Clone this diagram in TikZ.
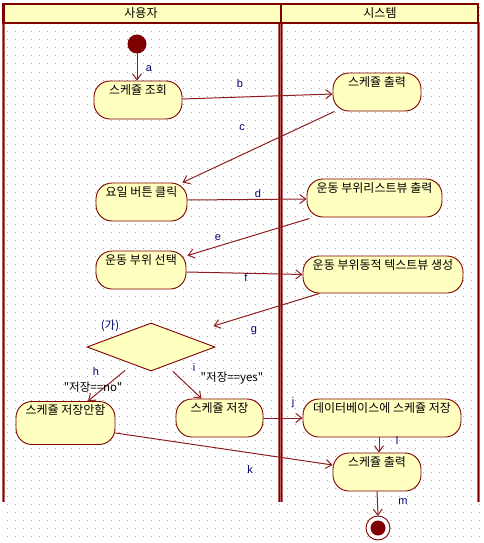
\documentclass[tikz,border=0pt]{standalone}
\usepackage{fontspec}
\setmainfont{Liberation Sans}
\newfontfamily\kr{Noto Sans CJK KR}
\usetikzlibrary{arrows.meta,shapes.geometric,calc}
\definecolor{framec}{HTML}{800000}
\definecolor{lanec}{HTML}{B86060}
\definecolor{fillc}{HTML}{FFFFC0}
\definecolor{arrowc}{HTML}{8E1E1E}
\definecolor{navyc}{HTML}{000070}
\definecolor{dotc}{HTML}{A8A8A8}
\newcommand{\actbox}[6]{%
  \node[act,minimum width=#4,minimum height=#5] (#1) at (#2,#3) {};
  \node[acttext] (#1t) at ($(#1.north)+(0,13.5)$) {#6};}
\begin{document}
\begin{tikzpicture}[x=1pt,y=-1pt,
  act/.style={draw=framec,fill=fillc,line width=0.9pt,rounded corners=16pt,inner sep=0pt},
  acttext/.style={font=\kr\fontsize{12}{14}\selectfont,anchor=base,inner sep=0pt},
  hdr/.style={font=\kr\fontsize{12}{14}\selectfont,inner sep=0pt},
  flow/.style={draw=arrowc,line width=1pt,-{Straight Barb[length=6pt,width=9pt]}},
  lab/.style={font=\fontsize{11}{13}\selectfont,text=navyc,inner sep=0pt},
  guard/.style={font=\kr\fontsize{11.5}{13}\selectfont,inner sep=0pt},
  griddot/.style={draw=dotc,line width=1pt,dash pattern=on 1pt off 7pt}]
\useasboundingbox (0,0) rectangle (483,543);
\fill[white] (0,0) rectangle (483,543);
% grid
\foreach \yy in {0,8,...,536} \draw[griddot] (6.5,\yy) -- (483,\yy);
% lanes
\foreach \xx/\ww in {3.5/3.5,478.5/3.5,280.5/5.5}
  \draw[lanec,line width=\ww pt] (\xx,22) -- (\xx,502);
\draw[framec,line width=1pt] (3.5,22) -- (3.5,502);
\draw[framec,line width=1pt] (279.2,22) -- (279.2,502);
\draw[framec,line width=1pt] (281.8,22) -- (281.8,502);
\draw[framec,line width=0.6pt] (478.5,22) -- (478.5,502);
% header
\draw[framec,fill=fillc,line width=2.5pt] (3.5,4) rectangle (478,23);
\draw[framec,line width=2.5pt] (281,4) -- (281,23);
\node[hdr] (h1) at (141,13) {사용자};
\node[hdr] (h2) at (380,13) {시스템};
% start
\fill[framec] (137,44) circle (9.5pt);
\coordinate (start) at (137,53.5);
% activities
\actbox{n1}{138}{100}{88pt}{38pt}{스케쥴 조회}
\actbox{n2}{377}{92}{88pt}{38pt}{스케쥴 출력}
\actbox{n3}{141.5}{202}{91pt}{38pt}{요일 버튼 클릭}
\actbox{n4}{374.5}{198}{135pt}{38pt}{운동 부위리스트뷰 출력}
\actbox{n5}{141}{270}{90pt}{38pt}{운동 부위 선택}
\actbox{n6}{383}{274.5}{160pt}{37pt}{운동 부위동적 텍스트뷰 생성}
\node[diamond,draw=framec,fill=fillc,line width=0.9pt,minimum width=128pt,minimum height=48pt,inner sep=0pt] (dia) at (151,347) {};
\actbox{n7}{65.5}{423}{99pt}{43pt}{스케쥴 저장안함}
\actbox{n8}{219.5}{418}{87pt}{38pt}{스케쥴 저장}
\actbox{n9}{382}{418}{158pt}{38pt}{데이터베이스에 스케쥴 저장}
\actbox{n10}{377}{472}{88pt}{38pt}{스케쥴 출력}
% end
\draw[framec,fill=white,line width=0.9pt] (378,528) circle (12pt);
\fill[framec] (378,528) circle (7.5pt);
\coordinate (endc) at (378,516);
% flows
\draw[flow] (start) -- (start |- n1.north);
\draw[flow] ($(n1.east)+(0,-1)$) -- ($(n2.west)+(0,2)$);
\draw[flow] ($(n2.south west)+(2,0)$) -- ($(n3.north east)+(-5,0)$);
\draw[flow] ($(n3.east)+(0,-2)$) -- ($(n4.west)+(0,1)$);
\draw[flow] ($(n4.south west)+(3,1)$) -- ($(n5.north east)+(1,5)$);
\draw[flow] ($(n5.east)+(0,2)$) -- (n6.west);
\draw[flow] ($(n6.south west)+(17,0)$) -- ($(dia.east)+(-2,-21)$);
\draw[flow] ($(dia.south)+(-26,-1)$) -- ($(n7.north)+(22.5,0)$);
\draw[flow] ($(dia.south)+(22,0)$) -- ($(n8.north)+(-18,0)$);
\draw[flow] (n8.east) -- (n9.west);
\draw[flow] ($(n7.east)+(0,10)$) -- ($(n10.west)+(0,-7)$);
\draw[flow] ($(n9.south)+(-3,0)$) -- ($(n10.north)+(2,0)$);
\draw[flow] (n10.south) -- (endc);
% labels
\node[lab] (la) at (149,69) {a};
\node[lab] (lb) at (240,84) {b};
\node[lab] (lc) at (242,128) {c};
\node[lab] (ld) at (258,194) {d};
\node[lab] (le) at (218,238) {e};
\node[lab] (lf) at (246,278) {f};
\node[lab] (lg) at (254,331) {g};
\node[lab] (lh) at (96,372) {h};
\node[lab] (li) at (194,368) {i};
\node[lab] (lj) at (293,403) {j};
\node[lab] (lk) at (250,470) {k};
\node[lab] (ll) at (397,441) {l};
\node[lab] (lm) at (403,502) {m};
\node[guard,text=navyc] (ga) at (110,326) {(가)};
\node[guard] (gno) at (93,387) {"저장==no"};
\node[guard] (gyes) at (232,378) {"저장==yes"};
\end{tikzpicture}
\end{document}
